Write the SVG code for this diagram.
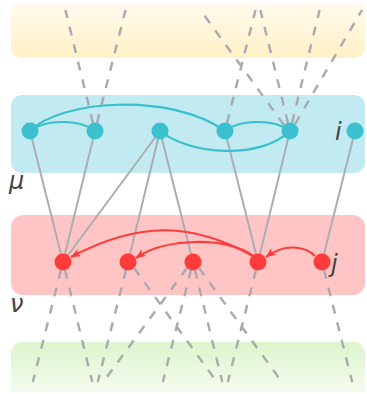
<svg xmlns="http://www.w3.org/2000/svg" width="367" height="394" viewBox="0 0 367 394">
  <defs>
    <linearGradient id="gy" x1="0" y1="0" x2="0" y2="1">
      <stop offset="0" stop-color="#fffbee"/>
      <stop offset="1" stop-color="#fff1c6"/>
    </linearGradient>
    <linearGradient id="gg" x1="0" y1="0" x2="0" y2="1">
      <stop offset="0" stop-color="#ddf5cd"/>
      <stop offset="1" stop-color="#f4fbee"/>
    </linearGradient>
    <marker id="arr" viewBox="0 0 10 8" refX="9.5" refY="4" markerWidth="10" markerHeight="8" markerUnits="userSpaceOnUse" orient="auto">
      <path d="M0,0 L10,4 L0,8 L2.5,4 Z" fill="#ff3b3b"/>
    </marker>
    <style>
      .sol { stroke: #aaaeb2; stroke-width: 2; fill: none; }
      .dash { stroke: #a9a9ae; stroke-width: 2.4; fill: none; stroke-dasharray: 9 9; }
      .cy { stroke: #38bfcf; stroke-width: 2.2; fill: none; }
      .rd { stroke: #ff3b3b; stroke-width: 2.2; fill: none; }
      .cn { fill: #3cc0cf; }
      .rn { fill: #ff3b3b; }
      .lbl { font-family: "DejaVu Sans", sans-serif; font-style: italic; font-size: 24px; fill: #444; }
    </style>
  </defs>

  <g id="bands">
    <path id="band-top" d="M11,3 H365 V48 A10,10 0 0 1 355,58 H21 A10,10 0 0 1 11,48 Z" fill="url(#gy)"/>
    <rect id="band-mu" x="11" y="95" width="354" height="78" rx="11" fill="#c1ebf0"/>
    <rect id="band-nu" x="11" y="215" width="354" height="80" rx="12" fill="#ffc4c4"/>
    <path id="band-bottom" d="M11,392 V353 A11,11 0 0 1 22,342 H354 A11,11 0 0 1 365,353 V392 Z" fill="url(#gg)"/>
  </g>

  <g id="connectors">
    <!-- solid links between layers -->
    <line class="sol" x1="30" y1="131" x2="63" y2="262"/>
    <line class="sol" x1="95" y1="131" x2="63" y2="262"/>
    <line class="sol" x1="160" y1="131" x2="63" y2="262"/>
    <line class="sol" x1="160" y1="131" x2="128" y2="262"/>
    <line class="sol" x1="160" y1="131" x2="193" y2="262"/>
    <line class="sol" x1="225" y1="131" x2="258" y2="262"/>
    <line class="sol" x1="290" y1="131" x2="258" y2="262"/>
    <line class="sol" x1="355" y1="131" x2="322" y2="262"/>

    <!-- dashed links to the layer above -->
    <line class="dash" x1="93" y1="123" x2="65.4" y2="10"/>
    <line class="dash" x1="97" y1="123" x2="125.5" y2="10"/>
    <line class="dash" x1="284" y1="125" x2="200.4" y2="10"/>
    <line class="dash" x1="227" y1="123" x2="255.5" y2="10"/>
    <line class="dash" x1="288" y1="123" x2="260.4" y2="10"/>
    <line class="dash" x1="292" y1="123" x2="319.6" y2="10"/>
    <line class="dash" x1="295" y1="124" x2="362" y2="10"/>

    <!-- dashed links to the layer below -->
    <line class="dash" x1="61" y1="270" x2="32.8" y2="382"/>
    <line class="dash" x1="65" y1="270" x2="92.3" y2="382"/>
    <line class="dash" x1="126" y1="270" x2="97.8" y2="382"/>
    <line class="dash" x1="134" y1="268" x2="216.9" y2="382"/>
    <line class="dash" x1="187" y1="268" x2="103.2" y2="382"/>
    <line class="dash" x1="191" y1="270" x2="162.8" y2="382"/>
    <line class="dash" x1="195" y1="270" x2="222.3" y2="382"/>
    <line class="dash" x1="199" y1="268" x2="281.9" y2="382"/>
    <line class="dash" x1="256" y1="270" x2="227.8" y2="382"/>
    <line class="dash" x1="324" y1="270" x2="352.2" y2="382"/>

    <!-- cyan in-layer links -->
    <path class="cy" d="M30,131 C45,119 80,119 95,131"/>
    <path class="cy" d="M30,131 C60,100 170,92 225,131"/>
    <path class="cy" d="M225,131 C240,119 275,119 290,131"/>
    <path class="cy" d="M160,131 C190,155 260,160 290,131"/>

    <!-- red in-layer arrows -->
    <path class="rd" d="M253,256 C193,223 141,220 71,257" marker-end="url(#arr)"/>
    <path class="rd" d="M253,256 C225,236 165,238 136,258" marker-end="url(#arr)"/>
    <path class="rd" d="M315,256 C305,246 285,243 266,257" marker-end="url(#arr)"/>
  </g>

  <g id="mu-nodes">
    <circle id="m1" class="cn" cx="30" cy="131" r="8.5"/>
    <circle id="m2" class="cn" cx="95" cy="131" r="8.5"/>
    <circle id="m3" class="cn" cx="160" cy="131" r="8.5"/>
    <circle id="m4" class="cn" cx="225" cy="131" r="8.5"/>
    <circle id="m5" class="cn" cx="290" cy="131" r="8.5"/>
    <circle id="m6" class="cn" cx="355" cy="131" r="8.5"/>
  </g>
  <g id="nu-nodes">
    <circle id="n1" class="rn" cx="63" cy="262" r="8.5"/>
    <circle id="n2" class="rn" cx="128" cy="262" r="8.5"/>
    <circle id="n3" class="rn" cx="193" cy="262" r="8.5"/>
    <circle id="n4" class="rn" cx="258" cy="262" r="8.5"/>
    <circle id="n5" class="rn" cx="322" cy="262" r="8.5"/>
  </g>

  <g id="labels">
    <text class="lbl" x="335" y="140">i</text>
    <text class="lbl" x="331" y="272">j</text>
    <text class="lbl" x="9" y="189">μ</text>
    <text class="lbl" x="10" y="312">ν</text>
  </g>
</svg>
